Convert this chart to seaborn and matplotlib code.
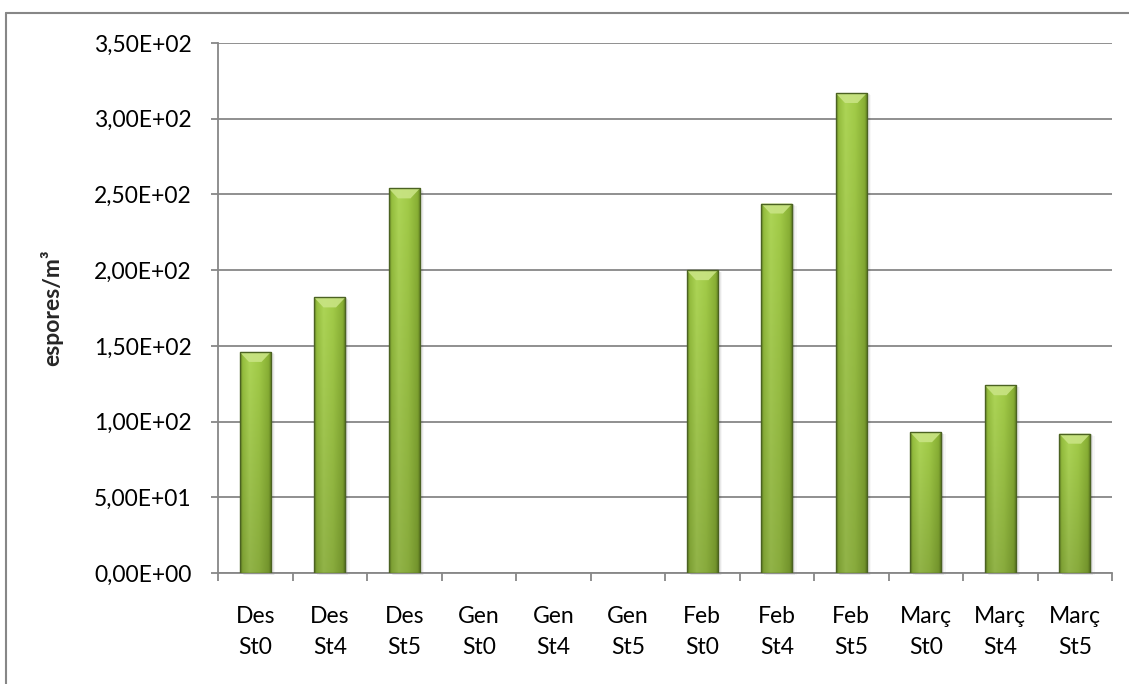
import numpy as np
import matplotlib
matplotlib.use("Agg")
import matplotlib.pyplot as plt
import seaborn as sns
from matplotlib.colors import to_rgb
from matplotlib.lines import Line2D
from matplotlib.patches import Polygon, Rectangle
from matplotlib.ticker import FuncFormatter, MultipleLocator
from matplotlib.transforms import offset_copy

# Spore counts per month and station
months = ["Des", "Des", "Des", "Gen", "Gen", "Gen",
          "Feb", "Feb", "Feb", "Març", "Març", "Març"]
stations = ["St0", "St4", "St5"] * 4
values = [146, 182, 254, 0, 0, 0, 200, 244, 317, 93, 124, 92]
labels = [f"{m}\n{s}" for m, s in zip(months, stations)]

sns.set_style("white")
plt.rcParams["font.family"] = ["Lato", "DejaVu Sans"]

W, H = 1129, 684
fig = plt.figure(figsize=(W / 100, H / 100), dpi=100)
ax = fig.add_axes([218 / W, 1 - 573 / H, (1112 - 218) / W, (573 - 43) / H])

grid_col = "#878787"
edge_col = "#4b6222"
fs = 16.5

sns.barplot(x=labels, y=values, ax=ax, color="#9cc642", width=0.42,
            edgecolor=edge_col, linewidth=1.0, zorder=3)

ax.set_ylim(0, 350)
ax.set_xlim(-0.5, len(labels) - 0.5)
ax.yaxis.set_major_locator(MultipleLocator(50))
ax.yaxis.set_major_formatter(
    FuncFormatter(lambda v, _: f"{v:.2E}".replace(".", ",")))
ax.grid(axis="y", color=grid_col, linewidth=1.3, zorder=0)
ax.set_axisbelow(True)

for s in ("top", "right"):
    ax.spines[s].set_visible(False)
for s in ("left", "bottom"):
    ax.spines[s].set_color(grid_col)
    ax.spines[s].set_linewidth(1.3)

ax.tick_params(axis="y", direction="out", length=5, width=1.3,
               color=grid_col, pad=14, labelsize=fs, labelcolor="black",
               left=True)
ax.tick_params(axis="x", which="major", length=0, pad=24, labelsize=fs,
               labelcolor="black")
ax.set_xticks(np.arange(-0.5, len(labels), 1.0), minor=True)
ax.tick_params(axis="x", which="minor", direction="out", length=6,
               width=1.3, color=grid_col, bottom=True)
for t in ax.get_xticklabels():
    t.set_linespacing(1.55)

ax.set_xlabel("")
ax.set_ylabel("espores/m³", fontsize=fs, fontweight="bold", labelpad=22)

# Cylinder-like shading for each bar
stops_u = [0.0, 0.08, 0.30, 0.60, 0.90, 1.0]
stops_c = np.array([to_rgb(c) for c in
                    ["#6a8a25", "#95be3e", "#add556", "#a2cb48",
                     "#89b035", "#5f7e1f"]])
nx, ny = 64, 128
u = np.linspace(0, 1, nx)
profile = np.stack([np.interp(u, stops_u, stops_c[:, k]) for k in range(3)],
                   axis=-1)
vert = np.linspace(0.84, 1.0, ny)[:, None, None]
img = np.clip(profile[None, :, :] * vert, 0, 1)

units_per_px = 350 / (573 - 43)
for p in list(ax.patches):
    x0, w, h = p.get_x(), p.get_width(), p.get_height()
    if h <= 0:
        p.set_visible(False)
        continue
    # soft drop shadow
    for k, a in ((1.5, 0.10), (3.0, 0.06), (4.5, 0.03)):
        tr = offset_copy(ax.transData, fig=fig, x=k, y=-k * 0.5,
                         units="dots")
        ax.add_patch(Rectangle((x0, 0), w, h, transform=tr,
                               facecolor="black", edgecolor="none",
                               alpha=a, zorder=2, clip_on=False))
    im = ax.imshow(img, extent=[x0, x0 + w, 0, h], origin="lower",
                   aspect="auto", zorder=3.5, interpolation="bilinear")
    im.set_clip_path(p)
    b = 10 * units_per_px
    d = 0.30 * w
    bevel = Polygon([[x0, h], [x0 + w, h], [x0 + w - d, h - b],
                     [x0 + d, h - b]], closed=True,
                    facecolor="#c9e484", edgecolor="none", alpha=0.9,
                    zorder=3.6)
    ax.add_patch(bevel)
    p.set_facecolor("none")
    p.set_zorder(4)

ax.set_ylim(0, 350)
ax.set_xlim(-0.5, len(labels) - 0.5)

# Chart frame
fig.add_artist(Line2D([6 / W, 6 / W], [0, 1 - 13 / H],
                      transform=fig.transFigure, color=grid_col, lw=1.5))
fig.add_artist(Line2D([6 / W, 1], [1 - 13 / H, 1 - 13 / H],
                      transform=fig.transFigure, color=grid_col, lw=1.5))

fig.savefig("out.png", dpi=100, facecolor="white")
